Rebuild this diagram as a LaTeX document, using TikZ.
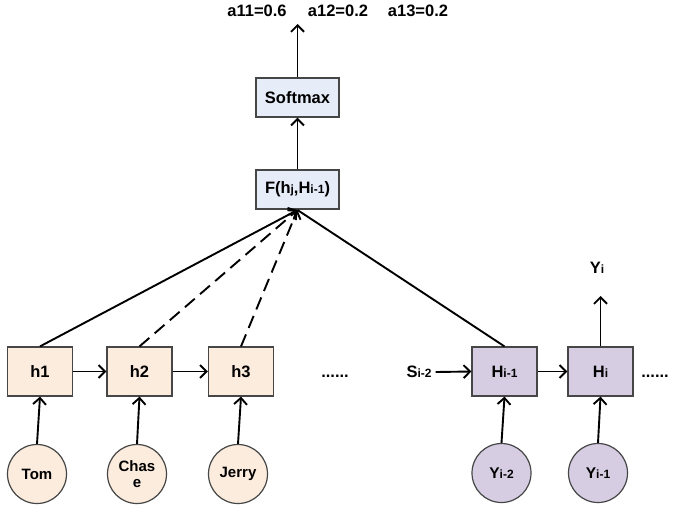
\documentclass[tikz,border=0pt]{standalone}
\usepackage{fontspec}
\setmainfont{Liberation Sans}
\usetikzlibrary{arrows.meta}
\definecolor{peach}{RGB}{252,236,222}
\definecolor{lav}{RGB}{214,205,227}
\definecolor{pale}{RGB}{230,236,248}
\definecolor{edge}{RGB}{70,70,70}
\newcommand{\smallsub}[1]{{\fontsize{12}{13}\selectfont #1}}
\begin{document}
\begin{tikzpicture}[x=1pt,y=-1pt,
  font=\bfseries\fontsize{16.5}{18}\selectfont,
  every node/.style={inner sep=0pt},
  hbox/.style={draw=edge, line width=1.2pt, fill=peach, minimum width=65pt, minimum height=49pt},
  pbox/.style={draw=edge, line width=1.2pt, fill=lav, minimum width=65pt, minimum height=49pt},
  bbox/.style={draw=edge, line width=1.2pt, fill=pale, minimum width=83pt, minimum height=39pt},
  hcirc/.style={draw=edge, line width=1.2pt, circle, fill=peach, minimum size=59pt, font=\bfseries\fontsize{15}{16}\selectfont, align=center},
  pcirc/.style={draw=edge, line width=1.2pt, circle, fill=lav, minimum size=59pt, font=\bfseries\fontsize{15.5}{16}\selectfont},
  conn/.style={line width=1.9pt, -{Straight Barb[length=6.5pt,width=13pt,line width=1.9pt]}},
  plain/.style={line width=1.9pt}
]
\useasboundingbox (0,0) rectangle (679,512);
\fill[white] (0,0) rectangle (679,512);

% top boxes
\node[bbox] (sm) at (297.5,97.5) {Softmax};
\node[bbox] (f) at (297.5,189.5) {F(h\smallsub{j},H\smallsub{i-1})};
\coordinate (out) at (297.5,24);
\node (a11) at (257,11) {a11=0.6};
\node (a12) at (338,11) {a12=0.2};
\node (a13) at (418,11) {a13=0.2};

% encoder
\node[hbox] (h1) at (40,371.5) {h1};
\node[hbox] (h2) at (139.5,371.5) {h2};
\node[hbox] (h3) at (241,371.5) {h3};
\node (dots1) at (335,376) {......};
\node[hcirc] (tom) at (37,474) {Tom};
\node[hcirc] (chase) at (137,474) {Chas\\e};
\node[hcirc] (jerry) at (238,474) {Jerry};

% decoder
\node (si) at (419,372) {S\smallsub{i-2}};
\node[pbox] (H1) at (504.5,371.5) {H\smallsub{i-1}};
\node[pbox] (H) at (600.5,371.5) {H\smallsub{i}};
\node (dots2) at (655,376) {......};
\node[pcirc] (y2) at (501.5,473) {Y\smallsub{i-2}};
\node[pcirc] (y1) at (598,473) {Y\smallsub{i-1}};
\node (yi) at (597,268) {Y\smallsub{i}};
\coordinate (yiarr) at (600.5,296);
\coordinate (fin) at (297.5,210);

% connectors
\draw[conn] (sm.north) -- (out);
\draw[conn] (f.north) -- (sm.south);
\draw[conn] (h1.north) -- (fin);
\draw[conn,dash pattern=on 13pt off 7pt] (h2.north) -- (fin);
\draw[conn,dash pattern=on 13pt off 7pt] (h3.north) -- (fin);
\draw[plain] (H1.north) -- (fin);
\draw[conn] (h1.east) -- (h2.west);
\draw[conn] (h2.east) -- (h3.west);
\draw[conn] (tom.north) -- (h1.south);
\draw[conn] (chase.north) -- (h2.south);
\draw[conn] (jerry.north) -- (h3.south);
\draw[conn] ([xshift=4pt]si.east) -- (H1.west);
\draw[conn] (H1.east) -- (H.west);
\draw[conn] (y2.north) -- (H1.south);
\draw[conn] (y1.north) -- (H.south);
\draw[conn] (H.north) -- (yiarr);
\end{tikzpicture}
\end{document}
